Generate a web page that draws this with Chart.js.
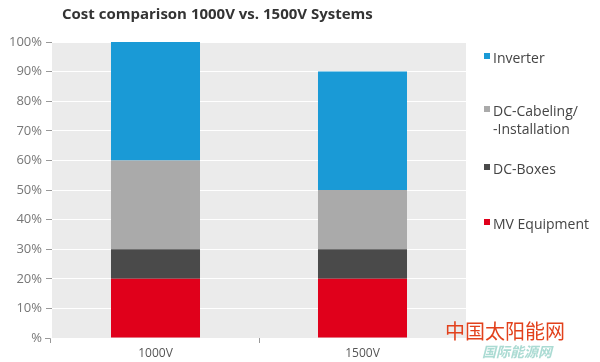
<!DOCTYPE html>
<html>
<head>
<meta charset="utf-8">
<script src="https://cdn.jsdelivr.net/npm/chart.js@4/dist/chart.umd.min.js"></script>
<style>
  html, body { margin: 0; padding: 0; background: #fff; }
  #wrap { width: 600px; height: 362px; }
</style>
</head>
<body>
<div id="wrap"><canvas id="costChart" width="600" height="362"></canvas></div>
<script>
// Chart data
const categories = ['1000V', '1500V'];
const mvEquipment = [20, 20];
const dcBoxes = [10, 10];
const dcCabeling = [30, 20];
const inverter = [40, 40];
const yTicks = [0, 10, 20, 30, 40, 50, 60, 70, 80, 90, 100];

const FONT = '"Open Sans", "DejaVu Sans", sans-serif';

// gray plot background, title, legend and watermark drawn by hand
const decorPlugin = {
    id: 'decor',
    beforeDraw(chart) {
        const { ctx, chartArea } = chart;
        ctx.save();
        ctx.fillStyle = '#ebebeb';
        ctx.fillRect(chartArea.left, chartArea.top, chartArea.right - chartArea.left, chartArea.bottom - chartArea.top);
        ctx.restore();
    },
    afterDraw(chart) {
        const ctx = chart.ctx;
        ctx.save();
        // title
        ctx.fillStyle = '#333';
        ctx.font = 'bold 15px ' + FONT;
        ctx.textBaseline = 'alphabetic';
        ctx.textAlign = 'left';
        ctx.fillText('Cost comparison 1000V vs. 1500V Systems', 62, 19);

        // legend
        const items = [
            { lines: ['Inverter'], color: '#1a9ad6', y: 59 },
            { lines: ['DC-Cabeling/', '-Installation'], color: '#aaaaaa', y: 112 },
            { lines: ['DC-Boxes'], color: '#4a4a4a', y: 170 },
            { lines: ['MV Equipment'], color: '#e0001b', y: 225 }
        ];
        ctx.font = '14px ' + FONT;
        ctx.textBaseline = 'middle';
        items.forEach((it) => {
            ctx.fillStyle = it.color;
            ctx.fillRect(484, it.y - 6, 6, 6);
            ctx.fillStyle = '#444';
            it.lines.forEach((line, i) => {
                ctx.fillText(line, 493, it.y + i * 18);
            });
        });

        // corner tick at zero
        ctx.strokeStyle = '#999';
        ctx.lineWidth = 1;
        ctx.beginPath();
        ctx.moveTo(45, 338.5);
        ctx.lineTo(50.5, 338.5);
        ctx.lineTo(50.5, 343);
        ctx.stroke();

        // watermark
        ctx.textBaseline = 'alphabetic';
        ctx.fillStyle = 'rgba(150, 210, 200, 0.8)';
        ctx.font = 'italic bold 14px "Noto Sans CJK SC", sans-serif';
        ctx.fillText('国际能源网', 482, 357);
        ctx.fillStyle = '#e2411c';
        ctx.font = '20px "Noto Sans CJK SC", sans-serif';
        ctx.fillText('中国太阳能网', 445, 339);
        ctx.restore();
    }
};

const costChart = new Chart(document.getElementById('costChart').getContext('2d'), {
    type: 'bar',
    data: {
        labels: categories,
        datasets: [
            { label: 'MV Equipment', data: mvEquipment, backgroundColor: '#e0001b' },
            { label: 'DC-Boxes', data: dcBoxes, backgroundColor: '#4a4a4a' },
            { label: 'DC-Cabeling/-Installation', data: dcCabeling, backgroundColor: '#aaaaaa' },
            { label: 'Inverter', data: inverter, backgroundColor: '#1a9ad6' }
        ]
    },
    options: {
        responsive: false,
        animation: false,
        events: [],
        categoryPercentage: 1,
        barPercentage: 0.43,
        layout: { padding: { top: 42, right: 134, left: 0, bottom: 0 } },
        plugins: {
            legend: { display: false },
            title: { display: false },
            tooltip: { enabled: false }
        },
        scales: {
            x: {
                stacked: true,
                afterFit: (scale) => { scale.height = 24; },
                border: { display: false },
                grid: {
                    drawOnChartArea: false,
                    drawTicks: true,
                    tickLength: 5,
                    tickColor: (c) => (c.index === 1 ? '#999' : 'transparent')
                },
                ticks: { color: '#555', font: { family: FONT, size: 12 }, padding: 3 }
            },
            y: {
                stacked: true,
                min: 0,
                max: 100,
                afterFit: (scale) => { scale.width = 52; },
                afterBuildTicks: (scale) => { scale.ticks = yTicks.map((v) => ({ value: v })); },
                border: { display: false },
                grid: {
                    color: (c) => (c.tick && c.tick.value === 0 ? 'transparent' : '#ffffff'),
                    lineWidth: 1,
                    drawTicks: true,
                    tickLength: 6,
                    tickColor: (c) => (c.tick && c.tick.value === 0 ? 'transparent' : '#999')
                },
                ticks: {
                    color: '#777',
                    font: { family: FONT, size: 13 },
                    padding: 4,
                    callback: (v) => (v === 0 ? '%' : v + '%')
                }
            }
        }
    },
    plugins: [decorPlugin]
});
</script>
</body>
</html>
